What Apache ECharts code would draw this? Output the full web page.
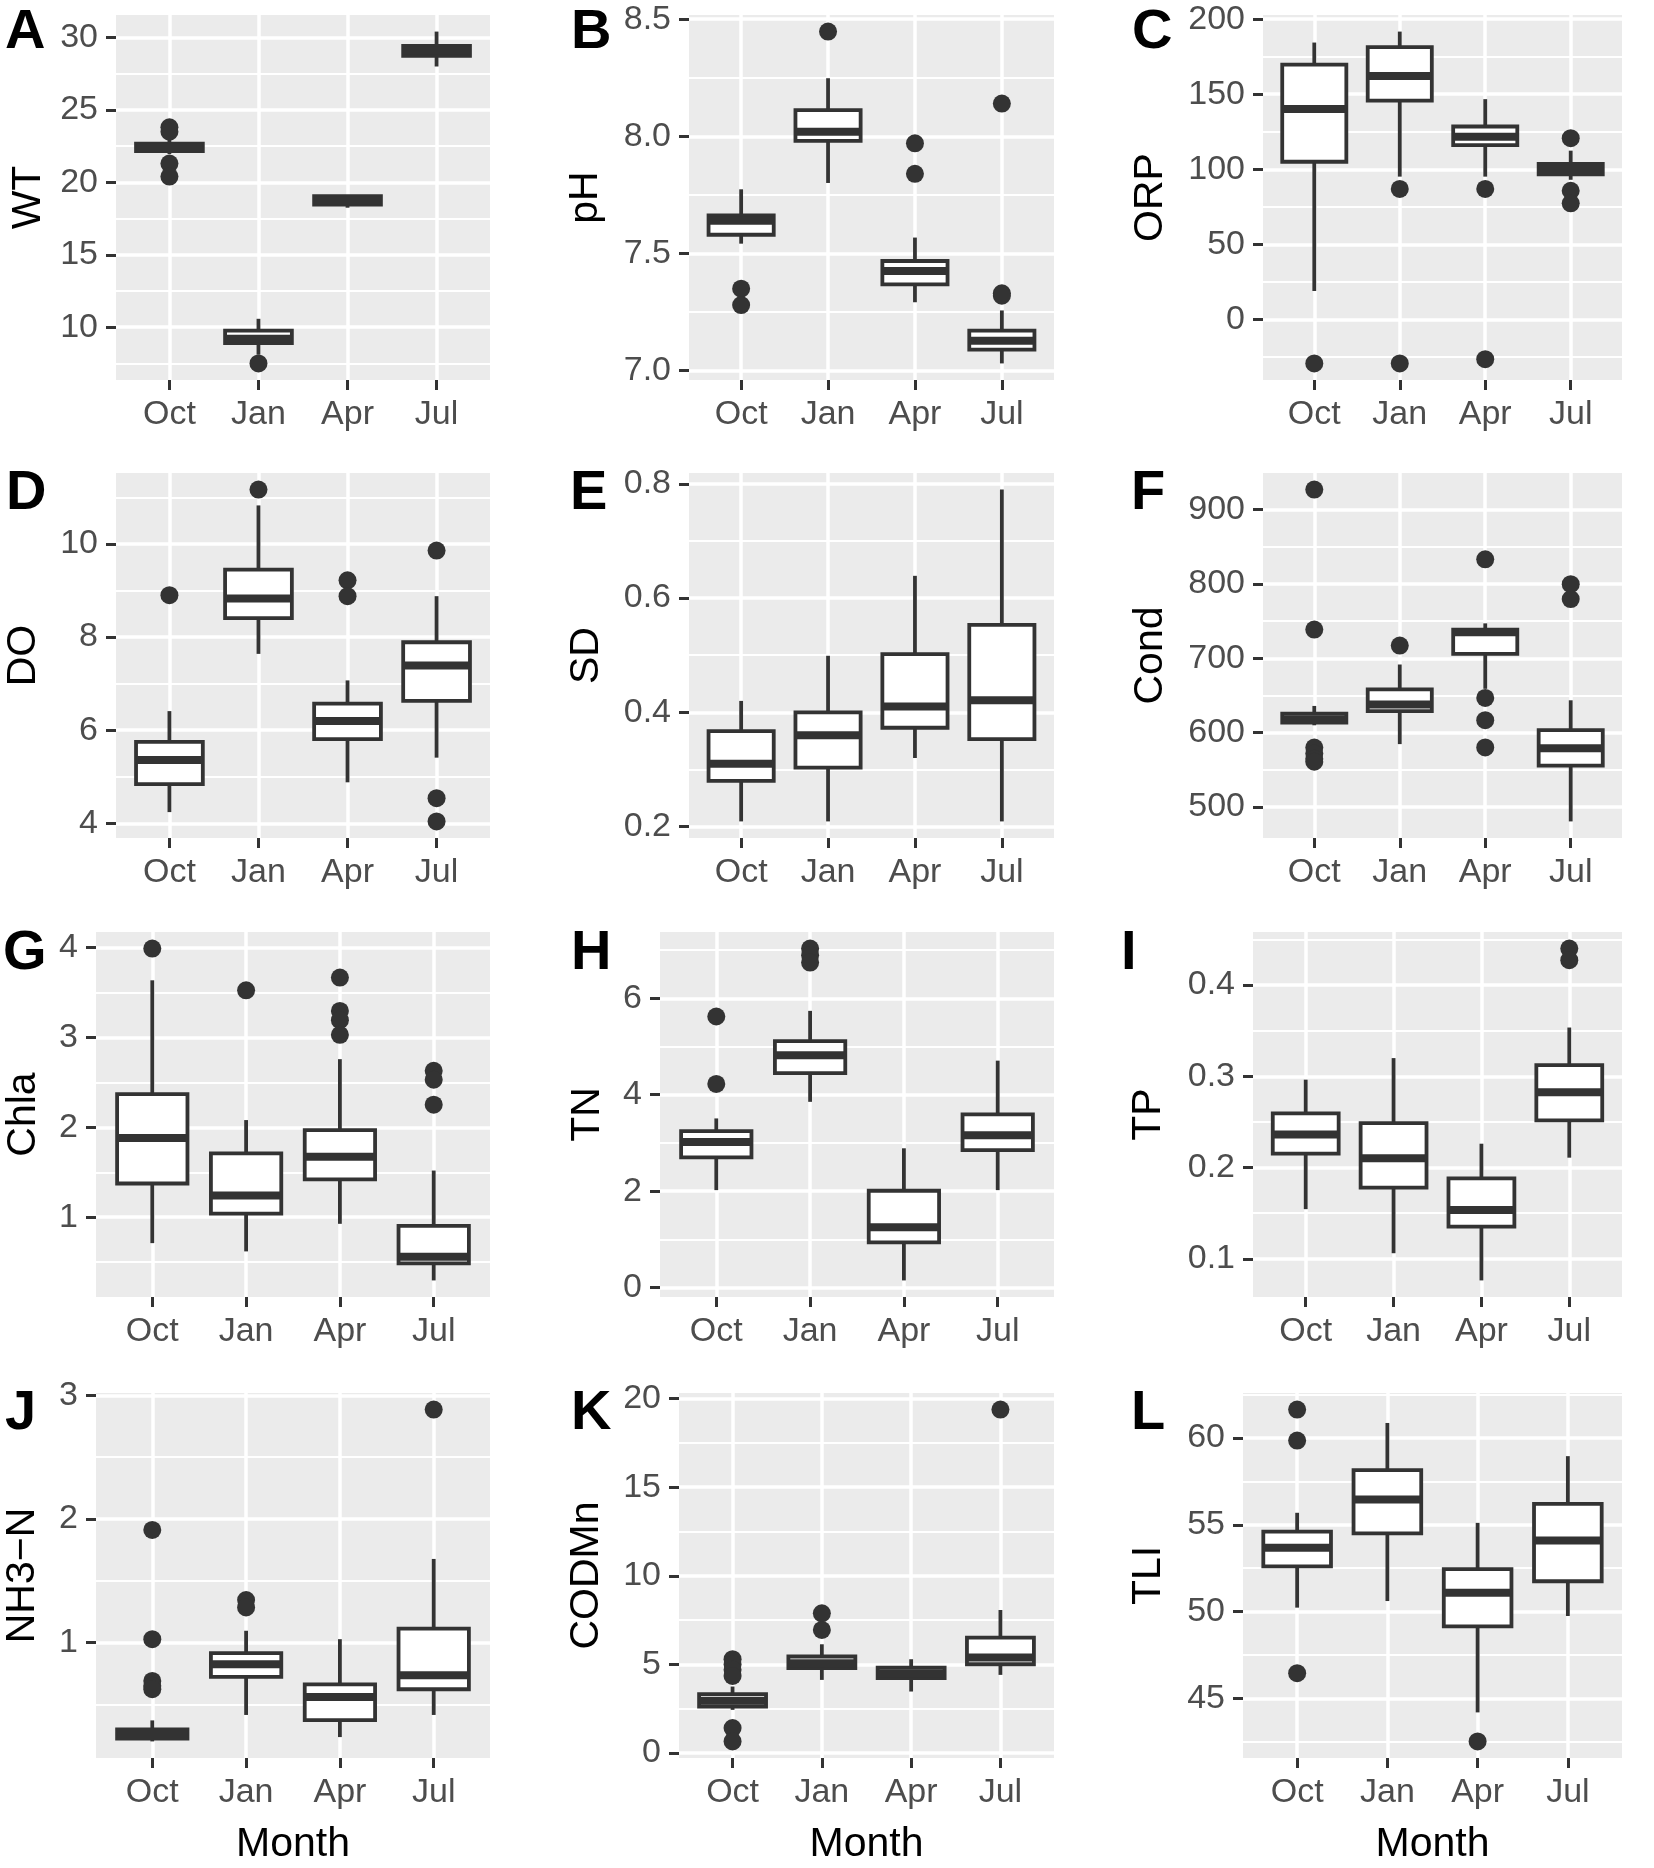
<!DOCTYPE html>
<html><head><meta charset="utf-8">
<script src="https://cdn.jsdelivr.net/npm/echarts@6/dist/echarts.min.js"></script>
<style>html,body{margin:0;padding:0;background:#fff}#c{width:1654px;height:1868px}</style>
</head><body><div id="c"></div>
<script>
const months = ['Oct', 'Jan', 'Apr', 'Jul'];

// Each box row: [lower whisker, Q1, median, Q3, upper whisker]; outliers: [month index, value]
const WT_box = [[21.95, 22.16, 22.4, 22.67, 22.95], [8.1, 8.9, 9.2, 9.77, 10.58], [18.25, 18.47, 18.75, 19.04, 19.04], [28.0, 28.73, 29.1, 29.42, 30.41]];
const WT_out = [[0, 23.8], [0, 23.5], [0, 21.3], [0, 20.4], [1, 7.5]];
const WT_ticks = ['10', '15', '20', '25', '30'];

const pH_box = [[7.542, 7.58, 7.64, 7.663, 7.774], [7.801, 7.981, 8.02, 8.112, 8.248], [7.292, 7.368, 7.425, 7.468, 7.568], [7.031, 7.09, 7.128, 7.171, 7.257]];
const pH_out = [[0, 7.35], [0, 7.28], [1, 8.447], [2, 7.97], [2, 7.84], [3, 8.14], [3, 7.33], [3, 7.32]];
const pH_ticks = ['7.0', '7.5', '8.0', '8.5'];

const ORP_box = [[18.9, 105, 140.2, 169.7, 184.4], [95.1, 145.7, 162.2, 181.4, 191.7], [95.1, 116.1, 121.7, 128.5, 146.7], [93, 96.7, 100.2, 103.5, 112.4]];
const ORP_out = [[0, -29.3], [1, 86.9], [1, -29.3], [2, 86.9], [2, -26.5], [3, 120.7], [3, 85.7], [3, 77.3]];
const ORP_ticks = ['0', '50', '100', '150', '200'];

const DO_box = [[4.24, 4.84, 5.36, 5.75, 6.41], [7.64, 8.41, 8.83, 9.45, 10.83], [4.88, 5.81, 6.2, 6.57, 7.07], [5.41, 6.63, 7.39, 7.89, 8.88]];
const DO_out = [[0, 8.9], [1, 11.17], [2, 9.22], [2, 8.88], [3, 9.86], [3, 4.54], [3, 4.04]];
const DO_ticks = ['4', '6', '8', '10'];

const SD_box = [[0.209, 0.28, 0.31, 0.367, 0.42], [0.209, 0.303, 0.36, 0.4, 0.499], [0.32, 0.373, 0.41, 0.502, 0.639], [0.209, 0.353, 0.421, 0.553, 0.79]];
const SD_out = [];
const SD_ticks = ['0.2', '0.4', '0.6', '0.8'];

const Cond_box = [[610, 613.7, 618, 625.8, 636], [584.7, 628.9, 638, 658.3, 691.7], [659, 706, 735, 738.6, 747], [480.8, 555.7, 579, 603.5, 643.6]];
const Cond_out = [[0, 926.8], [0, 738.6], [0, 580], [0, 572], [0, 565], [0, 561], [1, 717.2], [2, 833.1], [2, 646.7], [2, 616.8], [2, 580.3], [3, 799.7], [3, 779.6]];
const Cond_ticks = ['500', '600', '700', '800', '900'];

const Chla_box = [[0.711, 1.375, 1.881, 2.37, 3.637], [0.619, 1.04, 1.241, 1.71, 2.081], [0.926, 1.42, 1.674, 1.97, 2.759], [0.296, 0.486, 0.56, 0.903, 1.519]];
const Chla_out = [[0, 3.99], [1, 3.526], [2, 3.667], [2, 3.296], [2, 3.193], [2, 3.03], [3, 2.63], [3, 2.53], [3, 2.252]];
const Chla_ticks = ['1', '2', '3', '4'];

const TN_box = [[2.023, 2.7, 3.02, 3.245, 3.509], [3.853, 4.45, 4.817, 5.11, 5.739], [0.151, 0.94, 1.252, 2.01, 2.89], [2.023, 2.85, 3.158, 3.595, 4.707]];
const TN_out = [[0, 5.622], [0, 4.225], [1, 7.03], [1, 6.89], [1, 6.74]];
const TN_ticks = ['0', '2', '4', '6'];

const TP_box = [[0.1545, 0.2153, 0.2364, 0.2595, 0.2964], [0.1062, 0.178, 0.2102, 0.2487, 0.32], [0.0764, 0.1353, 0.1535, 0.1883, 0.2262], [0.2109, 0.2517, 0.2825, 0.3123, 0.3535]];
const TP_out = [[3, 0.44], [3, 0.4273]];
const TP_ticks = ['0.1', '0.2', '0.3', '0.4'];

const NH3N_box = [[0.2, 0.222, 0.26, 0.297, 0.37], [0.414, 0.722, 0.824, 0.914, 1.095], [0.235, 0.372, 0.559, 0.662, 1.027], [0.414, 0.622, 0.735, 1.113, 1.676]];
const NH3N_out = [[0, 1.911], [0, 1.027], [0, 0.689], [0, 0.65], [0, 0.622], [1, 1.343], [1, 1.284], [3, 2.884]];
const NH3N_ticks = ['1', '2', '3'];

const CODMn_box = [[2.44, 2.63, 2.95, 3.33, 3.756], [4.13, 4.79, 5.07, 5.45, 6.14], [3.474, 4.225, 4.5, 4.826, 5.296], [4.413, 5.014, 5.39, 6.516, 8.075]];
const CODMn_out = [[0, 5.3], [0, 5.0], [0, 4.7], [0, 4.35], [0, 1.41], [0, 0.66], [1, 7.887], [1, 6.948], [3, 19.38]];
const CODMn_ticks = ['0', '5', '10', '15', '20'];

const TLI_box = [[50.23, 52.6, 53.68, 54.6, 55.69], [50.61, 54.5, 56.46, 58.15, 60.86], [44.2, 49.15, 51.09, 52.45, 55.11], [49.75, 51.75, 54.1, 56.2, 58.95]];
const TLI_out = [[0, 61.63], [0, 59.85], [0, 46.46], [2, 42.53]];
const TLI_ticks = ['45', '50', '55', '60'];

// ---- layout (styling only) ----
const FONT = "'Liberation Sans', Arial, Helvetica, sans-serif";
const panels = [
  {letter: 'A', title: 'WT', box: WT_box, out: WT_out, ticks: WT_ticks, l: 116, t: 15, w: 374, gap: 67, lx: 5, ly: 5},
  {letter: 'B', title: 'pH', box: pH_box, out: pH_out, ticks: pH_ticks, l: 689, t: 15, w: 365, gap: 83, lx: 571, ly: 5},
  {letter: 'C', title: 'ORP', box: ORP_box, out: ORP_out, ticks: ORP_ticks, l: 1263, t: 15, w: 359, gap: 92, lx: 1132, ly: 5},
  {letter: 'D', title: 'DO', box: DO_box, out: DO_out, ticks: DO_ticks, l: 116, t: 473, w: 374, gap: 72, lx: 6, ly: 466},
  {letter: 'E', title: 'SD', box: SD_box, out: SD_out, ticks: SD_ticks, l: 689, t: 473, w: 365, gap: 82, lx: 570, ly: 466},
  {letter: 'F', title: 'Cond', box: Cond_box, out: Cond_out, ticks: Cond_ticks, l: 1263, t: 473, w: 359, gap: 92, lx: 1131, ly: 466},
  {letter: 'G', title: 'Chla', box: Chla_box, out: Chla_out, ticks: Chla_ticks, l: 96, t: 932, w: 394, gap: 52, lx: 3, ly: 926},
  {letter: 'H', title: 'TN', box: TN_box, out: TN_out, ticks: TN_ticks, l: 660, t: 932, w: 394, gap: 52, lx: 571, ly: 926},
  {letter: 'I', title: 'TP', box: TP_box, out: TP_out, ticks: TP_ticks, l: 1253, t: 932, w: 369, gap: 84, lx: 1121, ly: 926},
  {letter: 'J', title: 'NH3\u2212N', box: NH3N_box, out: NH3N_out, ticks: NH3N_ticks, l: 96, t: 1393, w: 394, gap: 53, lx: 5, ly: 1386, month: true},
  {letter: 'K', title: 'CODMn', box: CODMn_box, out: CODMn_out, ticks: CODMn_ticks, l: 679, t: 1393, w: 375, gap: 72, lx: 571, ly: 1386, month: true},
  {letter: 'L', title: 'TLI', box: TLI_box, out: TLI_out, ticks: TLI_ticks, l: 1243, t: 1393, w: 379, gap: 74, lx: 1131, ly: 1386, month: true}
];
const H = 365;
const DARK = '#333333';

function renderBox(params, api) {
  const x = api.value(0), lo = api.value(1), q1 = api.value(2), med = api.value(3), q3 = api.value(4), hi = api.value(5);
  const hw = 0.375;
  const tl = api.coord([x - hw, q3]);
  const br = api.coord([x + hw, q1]);
  const pHi = api.coord([x, hi]), pQ3 = api.coord([x, q3]), pQ1 = api.coord([x, q1]), pLo = api.coord([x, lo]);
  const mL = api.coord([x - hw, med]), mR = api.coord([x + hw, med]);
  const lw = 3.8;
  return {type: 'group', children: [
    {type: 'line', shape: {x1: pHi[0], y1: pHi[1], x2: pQ3[0], y2: pQ3[1]}, style: {stroke: DARK, lineWidth: lw}},
    {type: 'line', shape: {x1: pQ1[0], y1: pQ1[1], x2: pLo[0], y2: pLo[1]}, style: {stroke: DARK, lineWidth: lw}},
    {type: 'rect', shape: {x: tl[0], y: tl[1], width: br[0] - tl[0], height: br[1] - tl[1]}, style: {fill: '#ffffff', stroke: DARK, lineWidth: lw}},
    {type: 'line', shape: {x1: mL[0], y1: mL[1], x2: mR[0], y2: mR[1]}, style: {stroke: DARK, lineWidth: 8}}
  ]};
}

const option = {animation: false, backgroundColor: '#ffffff', title: [], grid: [], xAxis: [], yAxis: [], series: []};

panels.forEach((p, i) => {
  const vals = [];
  p.box.forEach(b => vals.push(...b));
  p.out.forEach(o => vals.push(o[1]));
  const dmin = Math.min(...vals), dmax = Math.max(...vals);
  const pad = (dmax - dmin) * 0.05;
  const ymin = dmin - pad, ymax = dmax + pad;
  const major = p.ticks.map(parseFloat);
  const step = major[1] - major[0];
  const minor = [];
  for (let v = major[0] - step / 2; v <= ymax; v += step) { if (v >= ymin) minor.push(+v.toFixed(6)); }

  option.title.push({text: p.letter, left: p.lx, top: p.ly, padding: 0,
    textStyle: {fontSize: 56, fontWeight: 'bold', color: '#000', fontFamily: FONT}});
  option.grid.push({left: p.l, top: p.t, width: p.w, height: H, show: true, backgroundColor: '#EBEBEB', borderWidth: 0, containLabel: false});
  option.xAxis.push({
    type: 'value', gridIndex: i, min: 0.4, max: 4.6,
    name: p.month ? 'Month' : '', nameLocation: 'middle', nameGap: 66,
    nameTextStyle: {fontSize: 41, color: '#000', fontFamily: FONT},
    axisLine: {show: false, onZero: false},
    axisTick: {show: true, customValues: [1, 2, 3, 4], length: 10, lineStyle: {color: DARK, width: 3}},
    axisLabel: {customValues: [1, 2, 3, 4], formatter: v => months[Math.round(v) - 1], margin: 18, fontSize: 34, color: '#4D4D4D', fontFamily: FONT},
    splitLine: {show: true, lineStyle: {color: '#ffffff', width: 3.5}}
  });
  option.yAxis.push({
    type: 'value', gridIndex: i, min: ymin, max: ymax, position: 'left',
    name: p.title, nameLocation: 'middle', nameGap: p.gap,
    nameTextStyle: {fontSize: 41, color: '#000', fontFamily: FONT},
    axisLine: {show: false, onZero: false},
    axisTick: {show: true, customValues: major, length: 10, lineStyle: {color: DARK, width: 3}},
    axisLabel: {customValues: major, margin: 18, fontSize: 34, color: '#4D4D4D', fontFamily: FONT,
      formatter: v => { const s = p.ticks.find(t => Math.abs(parseFloat(t) - v) < 1e-9); return s === undefined ? '' : s; }},
    splitLine: {show: true, lineStyle: {color: '#ffffff', width: 3.5}}
  });
  option.yAxis.push({
    type: 'value', gridIndex: i, min: ymin, max: ymax, position: 'left',
    axisLine: {show: false, onZero: false},
    axisTick: {show: false, customValues: minor},
    axisLabel: {show: false},
    splitLine: {show: true, lineStyle: {color: '#ffffff', width: 1.8}}
  });
  option.series.push({
    type: 'custom', xAxisIndex: i, yAxisIndex: 2 * i, silent: true, z: 3,
    renderItem: renderBox,
    encode: {x: 0, y: [1, 2, 3, 4, 5]},
    data: p.box.map((b, m) => [m + 1, b[0], b[1], b[2], b[3], b[4]])
  });
  option.series.push({
    type: 'scatter', xAxisIndex: i, yAxisIndex: 2 * i, silent: true, z: 4,
    symbol: 'circle', symbolSize: 18, itemStyle: {color: DARK, opacity: 1},
    data: p.out.map(o => [o[0] + 1, o[1]])
  });
});

const chart = echarts.init(document.getElementById('c'), null, {renderer: 'canvas'});
chart.setOption(option);
</script>
</body></html>
